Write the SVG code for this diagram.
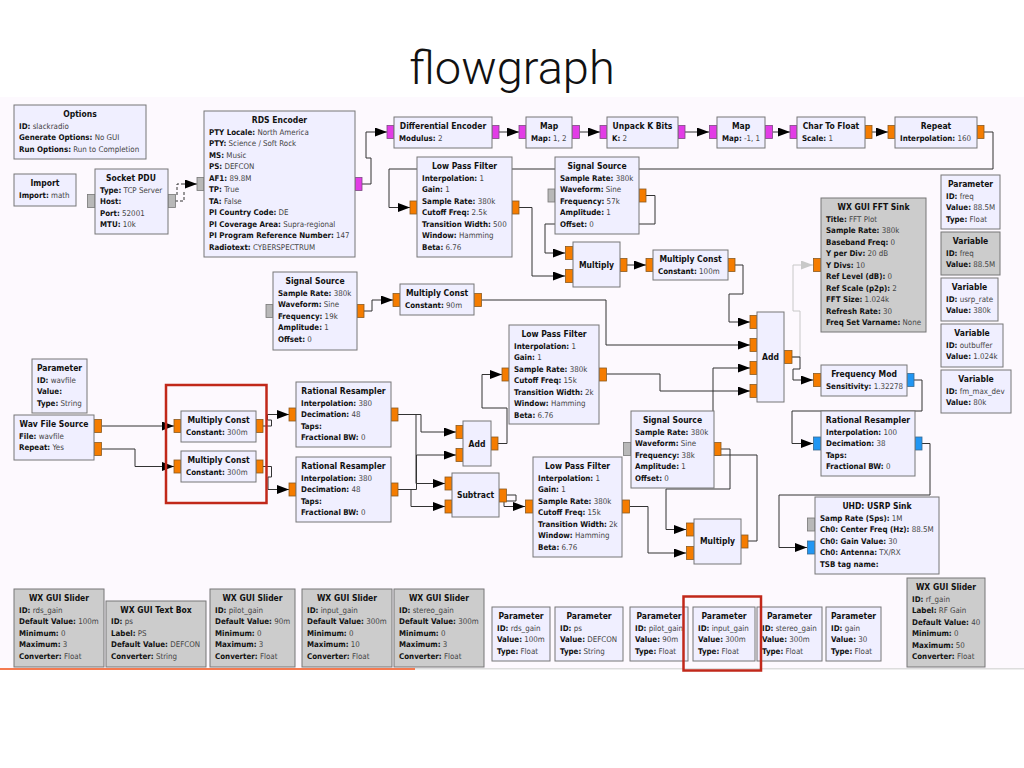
<svg xmlns="http://www.w3.org/2000/svg" width="1024" height="768" viewBox="0 0 1024 768">
<style>
text{font-family:"DejaVu Sans",sans-serif;font-stretch:condensed;font-size:7.9px;fill:#444}
.h{font-family:Roboto,"Liberation Sans",Arial,sans-serif;font-stretch:normal;font-weight:300;font-size:47px;fill:#111;text-anchor:middle}
.t{font-weight:700;font-size:8.5px;text-anchor:middle;fill:#111}
.b{font-weight:700;fill:#111}
.n{fill:#f0efff;stroke:#777;stroke-width:1}
.g{fill:#cccccc;stroke:#777;stroke-width:1}
.po{fill:#f57c00;stroke:#8a5a20;stroke-width:.8}
.pm{fill:#e23ce6;stroke:#7a4a80;stroke-width:.8}
.pb{fill:#2196f3;stroke:#3a6a90;stroke-width:.8}
.pg{fill:#b8b8b8;stroke:#777;stroke-width:.8}
.w{fill:none;stroke:#333;stroke-width:1;marker-end:url(#a)}
.wg{fill:none;stroke:#c8c8c8;stroke-width:1;marker-end:url(#ag)}
.d{fill:none;stroke:#333;stroke-width:1;stroke-dasharray:3 2}
.r{fill:none;stroke:#c1281a;stroke-width:2.5}
</style>
<defs>
<marker id="a" markerUnits="userSpaceOnUse" markerWidth="12" markerHeight="9" refX="12" refY="4.5" orient="auto"><path d="M0 0L12 4.5L0 9Z" fill="#000"/></marker>
<marker id="ag" markerUnits="userSpaceOnUse" markerWidth="12" markerHeight="9" refX="12" refY="4.5" orient="auto"><path d="M0 0L12 4.5L0 9Z" fill="#c8c8c8"/></marker>
</defs>
<rect x="0" y="97" width="1024" height="572" fill="#fdf9fe"/>
<rect x="415" y="668" width="609" height="1.5" fill="#dddddd"/>
<rect x="0" y="668" width="415" height="2" fill="#f47a50"/>
<text class="h" x="512" y="84">flowgraph</text>
<g id="connectors">
<path class="d" d="M175 201H184V190M177 195V184H184"/><path class="w" d="M184 184H197"/>
<path class="w" d="M362 184H371V158H366V132H387"/>
<path class="w" d="M499 132H519"/><path class="w" d="M580 132H600"/><path class="w" d="M685 132H709"/><path class="w" d="M773 132H790"/><path class="w" d="M872 132H888"/>
<path class="w" d="M984 132H993V169H389V207.500H410"/>
<path class="w" d="M519 207.500H532V276H565"/>
<path class="w" d="M646 195.500H655V224H545V253H565"/>
<path class="w" d="M627 265H646"/>
<path class="w" d="M735 265H743V294H729V322H750"/>
<path class="w" d="M364 311H372V300H393"/>
<path class="w" d="M482 300H606V345H750"/>
<path class="w" d="M607 374H660V391H750"/>
<path class="w" d="M748 541H757V455H713V368H750"/>
<path class="wg" d="M792 357H800V311H793V265H813"/>
<path class="w" d="M792 357H800V369H793V380H813"/>
<path class="w" d="M914 380H922V411H792V443.500H813"/>
<path class="w" d="M922 443.500H930V495H779V547.500H807"/>
<path class="w" d="M102 426H174"/>
<path class="w" d="M102 449H135V466.500H174"/>
<path class="w" d="M263 426H271.500V420H267.500V414.500H289"/>
<path class="w" d="M263 466.500H271.500V477H268V489.500H289"/>
<path class="w" d="M398 414.500H421V432H456"/>
<path class="w" d="M398 414.500H416V483.500H445"/>
<path class="w" d="M398 489.500H416.500V455H456"/>
<path class="w" d="M398 489.500H411V506.500H445"/>
<path class="w" d="M498 443.500H507V408H482V374.500H502"/>
<path class="w" d="M507 495H516V501H504V506.500H525"/>
<path class="w" d="M630 506.500H648V553H686"/>
<path class="w" d="M721 449H730V489H666V529.500H686"/>
</g>
<g id="options"><rect class="n" x="14" y="105" width="132" height="54"/><text class="t" x="80" y="117">Options</text><text x="19" y="128.500"><tspan class="b">ID:</tspan> slackradio</text><text x="19" y="140"><tspan class="b">Generate Options:</tspan> No GUI</text><text x="19" y="151.500"><tspan class="b">Run Options:</tspan> Run to Completion</text></g>
<g id="import"><rect class="n" x="14" y="174" width="62" height="32"/><text class="t" x="45" y="186">Import</text><text x="19" y="197.500"><tspan class="b">Import:</tspan> math</text></g>
<g id="socket-pdu"><rect class="pg" x="87.500" y="194.500" width="7.500" height="13"/><rect class="pg" x="168" y="194.500" width="7.500" height="13"/><rect class="n" x="95" y="169" width="73" height="65"/><text class="t" x="131" y="181">Socket PDU</text><text x="100" y="192.500"><tspan class="b">Type:</tspan> TCP Server</text><text x="100" y="204"><tspan class="b">Host:</tspan></text><text x="100" y="215.500"><tspan class="b">Port:</tspan> 52001</text><text x="100" y="227"><tspan class="b">MTU:</tspan> 10k</text></g>
<g id="rds-encoder"><rect class="pg" x="197" y="177.500" width="7" height="13"/><rect class="pm" x="355" y="177.500" width="7" height="13"/><rect class="n" x="204" y="111" width="151" height="146"/><text class="t" x="279.500" y="123">RDS Encoder</text><text x="209" y="134.500"><tspan class="b">PTY Locale:</tspan> North America</text><text x="209" y="146"><tspan class="b">PTY:</tspan> Science / Soft Rock</text><text x="209" y="157.500"><tspan class="b">MS:</tspan> Music</text><text x="209" y="169"><tspan class="b">PS:</tspan> DEFCON</text><text x="209" y="180.500"><tspan class="b">AF1:</tspan> 89.8M</text><text x="209" y="192"><tspan class="b">TP:</tspan> True</text><text x="209" y="203.500"><tspan class="b">TA:</tspan> False</text><text x="209" y="215"><tspan class="b">PI Country Code:</tspan> DE</text><text x="209" y="226.500"><tspan class="b">PI Coverage Area:</tspan> Supra-regional</text><text x="209" y="238"><tspan class="b">PI Program Reference Number:</tspan> 147</text><text x="209" y="249.500"><tspan class="b">Radiotext:</tspan> CYBERSPECTRUM</text></g>
<g id="signal-source-19k"><rect class="pg" x="266" y="304.500" width="7" height="13"/><rect class="po" x="357" y="304.500" width="7" height="13"/><rect class="n" x="273" y="272" width="84" height="78"/><text class="t" x="315" y="284">Signal Source</text><text x="278" y="295.500"><tspan class="b">Sample Rate:</tspan> 380k</text><text x="278" y="307"><tspan class="b">Waveform:</tspan> Sine</text><text x="278" y="318.500"><tspan class="b">Frequency:</tspan> 19k</text><text x="278" y="330"><tspan class="b">Amplitude:</tspan> 1</text><text x="278" y="341.500"><tspan class="b">Offset:</tspan> 0</text></g>
<g id="differential-encoder"><rect class="pm" x="387" y="125.500" width="7" height="13"/><rect class="pm" x="492" y="125.500" width="7" height="13"/><rect class="n" x="394" y="117" width="98" height="31"/><text class="t" x="443" y="129">Differential Encoder</text><text x="399" y="140.500"><tspan class="b">Modulus:</tspan> 2</text></g>
<g id="map-1"><rect class="pm" x="519" y="125.500" width="7" height="13"/><rect class="pm" x="572" y="125.500" width="7.500" height="13"/><rect class="n" x="526" y="117" width="46" height="31"/><text class="t" x="549" y="129">Map</text><text x="531" y="140.500"><tspan class="b">Map:</tspan> 1, 2</text></g>
<g id="unpack-k-bits"><rect class="pm" x="600" y="125.500" width="7" height="13"/><rect class="pm" x="678" y="125.500" width="7" height="13"/><rect class="n" x="607" y="117" width="71" height="31"/><text class="t" x="642.500" y="129">Unpack K Bits</text><text x="612" y="140.500"><tspan class="b">K:</tspan> 2</text></g>
<g id="map-2"><rect class="pm" x="709.500" y="125.500" width="7.500" height="13"/><rect class="pm" x="765" y="125.500" width="7.500" height="13"/><rect class="n" x="717" y="117" width="48" height="31"/><text class="t" x="741" y="129">Map</text><text x="722" y="140.500"><tspan class="b">Map:</tspan> -1, 1</text></g>
<g id="char-to-float"><rect class="pm" x="790" y="125.500" width="7" height="13"/><rect class="po" x="865" y="125.500" width="7" height="13"/><rect class="n" x="797" y="117" width="68" height="31"/><text class="t" x="831" y="129">Char To Float</text><text x="802" y="140.500"><tspan class="b">Scale:</tspan> 1</text></g>
<g id="repeat"><rect class="po" x="888" y="125.500" width="7" height="13"/><rect class="po" x="977" y="125.500" width="7" height="13"/><rect class="n" x="895" y="117" width="82" height="31"/><text class="t" x="936" y="129">Repeat</text><text x="900" y="140.500"><tspan class="b">Interpolation:</tspan> 160</text></g>
<g id="lpf-1"><rect class="po" x="410" y="201" width="7" height="13"/><rect class="po" x="512" y="201" width="7" height="13"/><rect class="n" x="417" y="157" width="95" height="100"/><text class="t" x="464.500" y="169">Low Pass Filter</text><text x="422" y="180.500"><tspan class="b">Interpolation:</tspan> 1</text><text x="422" y="192"><tspan class="b">Gain:</tspan> 1</text><text x="422" y="203.500"><tspan class="b">Sample Rate:</tspan> 380k</text><text x="422" y="215"><tspan class="b">Cutoff Freq:</tspan> 2.5k</text><text x="422" y="226.500"><tspan class="b">Transition Width:</tspan> 500</text><text x="422" y="238"><tspan class="b">Window:</tspan> Hamming</text><text x="422" y="249.500"><tspan class="b">Beta:</tspan> 6.76</text></g>
<g id="signal-source-57k"><rect class="pg" x="548" y="189" width="7" height="13"/><rect class="po" x="639" y="189" width="7" height="13"/><rect class="n" x="555" y="157" width="84" height="77"/><text class="t" x="597" y="169">Signal Source</text><text x="560" y="180.500"><tspan class="b">Sample Rate:</tspan> 380k</text><text x="560" y="192"><tspan class="b">Waveform:</tspan> Sine</text><text x="560" y="203.500"><tspan class="b">Frequency:</tspan> 57k</text><text x="560" y="215"><tspan class="b">Amplitude:</tspan> 1</text><text x="560" y="226.500"><tspan class="b">Offset:</tspan> 0</text></g>
<g id="multiply-1"><rect class="po" x="565.500" y="246.500" width="7.500" height="13"/><rect class="po" x="565.500" y="269.500" width="7.500" height="13"/><rect class="po" x="620" y="258.500" width="7" height="13"/><rect class="n" x="573" y="242" width="47" height="45"/><text class="t" x="596.500" y="268">Multiply</text></g>
<g id="multiply-const-100m"><rect class="po" x="646" y="258.500" width="7" height="13"/><rect class="po" x="728" y="258.500" width="7" height="13"/><rect class="n" x="653" y="250" width="75" height="30"/><text class="t" x="690.500" y="262">Multiply Const</text><text x="658" y="273.500"><tspan class="b">Constant:</tspan> 100m</text></g>
<g id="multiply-const-90m"><rect class="po" x="393" y="293.500" width="7" height="13"/><rect class="po" x="474" y="293.500" width="7.500" height="13"/><rect class="n" x="400" y="284" width="74" height="31"/><text class="t" x="437" y="296">Multiply Const</text><text x="405" y="307.500"><tspan class="b">Constant:</tspan> 90m</text></g>
<g id="lpf-2"><rect class="po" x="502" y="368" width="7" height="13"/><rect class="po" x="599" y="368" width="7.500" height="13"/><rect class="n" x="509" y="325" width="90" height="99"/><text class="t" x="554" y="337">Low Pass Filter</text><text x="514" y="348.500"><tspan class="b">Interpolation:</tspan> 1</text><text x="514" y="360"><tspan class="b">Gain:</tspan> 1</text><text x="514" y="371.500"><tspan class="b">Sample Rate:</tspan> 380k</text><text x="514" y="383"><tspan class="b">Cutoff Freq:</tspan> 15k</text><text x="514" y="394.500"><tspan class="b">Transition Width:</tspan> 2k</text><text x="514" y="406"><tspan class="b">Window:</tspan> Hamming</text><text x="514" y="417.500"><tspan class="b">Beta:</tspan> 6.76</text></g>
<g id="param-freq"><rect class="n" x="941" y="175" width="59" height="54"/><text class="t" x="970.500" y="187">Parameter</text><text x="946" y="198.500"><tspan class="b">ID:</tspan> freq</text><text x="946" y="210"><tspan class="b">Value:</tspan> 88.5M</text><text x="946" y="221.500"><tspan class="b">Type:</tspan> Float</text></g>
<g id="var-freq"><rect class="g" x="941" y="232" width="59" height="43"/><text class="t" x="970.500" y="244">Variable</text><text x="946" y="255.500"><tspan class="b">ID:</tspan> freq</text><text x="946" y="267"><tspan class="b">Value:</tspan> 88.5M</text></g>
<g id="var-usrp-rate"><rect class="n" x="941" y="278" width="57" height="43"/><text class="t" x="969.500" y="290">Variable</text><text x="946" y="301.500"><tspan class="b">ID:</tspan> usrp_rate</text><text x="946" y="313"><tspan class="b">Value:</tspan> 380k</text></g>
<g id="var-outbuffer"><rect class="n" x="941" y="324" width="62" height="43"/><text class="t" x="972" y="336">Variable</text><text x="946" y="347.500"><tspan class="b">ID:</tspan> outbuffer</text><text x="946" y="359"><tspan class="b">Value:</tspan> 1.024k</text></g>
<g id="var-fm-max-dev"><rect class="n" x="941" y="370" width="70" height="43"/><text class="t" x="976" y="382">Variable</text><text x="946" y="393.500"><tspan class="b">ID:</tspan> fm_max_dev</text><text x="946" y="405"><tspan class="b">Value:</tspan> 80k</text></g>
<g id="fft-sink"><rect class="po" x="813.500" y="258.500" width="7.500" height="13"/><rect class="g" x="821" y="198" width="105" height="134"/><text class="t" x="873.500" y="210">WX GUI FFT Sink</text><text x="826" y="221.500"><tspan class="b">Title:</tspan> FFT Plot</text><text x="826" y="233"><tspan class="b">Sample Rate:</tspan> 380k</text><text x="826" y="244.500"><tspan class="b">Baseband Freq:</tspan> 0</text><text x="826" y="256"><tspan class="b">Y per Div:</tspan> 20 dB</text><text x="826" y="267.500"><tspan class="b">Y Divs:</tspan> 10</text><text x="826" y="279"><tspan class="b">Ref Level (dB):</tspan> 0</text><text x="826" y="290.500"><tspan class="b">Ref Scale (p2p):</tspan> 2</text><text x="826" y="302"><tspan class="b">FFT Size:</tspan> 1.024k</text><text x="826" y="313.500"><tspan class="b">Refresh Rate:</tspan> 30</text><text x="826" y="325"><tspan class="b">Freq Set Varname:</tspan> None</text></g>
<g id="add-main"><rect class="po" x="750" y="315.500" width="7" height="13"/><rect class="po" x="750" y="338.500" width="7" height="13"/><rect class="po" x="750" y="361.500" width="7" height="13"/><rect class="po" x="750" y="384.500" width="7" height="13"/><rect class="po" x="784.500" y="350.500" width="7.500" height="13"/><rect class="n" x="757" y="312" width="27" height="90"/><text class="t" x="770.500" y="359.500">Add</text></g>
<g id="frequency-mod"><rect class="po" x="813.500" y="373.500" width="7.500" height="13"/><rect class="pb" x="907" y="373.500" width="7" height="13"/><rect class="n" x="821" y="365" width="86" height="31"/><text class="t" x="864" y="377">Frequency Mod</text><text x="826" y="388.500"><tspan class="b">Sensitivity:</tspan> 1.32278</text></g>
<g id="resampler-3"><rect class="pb" x="813.500" y="437" width="7.500" height="13"/><rect class="pb" x="915" y="437" width="7" height="13"/><rect class="n" x="821" y="411" width="94" height="65"/><text class="t" x="868" y="423">Rational Resampler</text><text x="826" y="434.500"><tspan class="b">Interpolation:</tspan> 100</text><text x="826" y="446"><tspan class="b">Decimation:</tspan> 38</text><text x="826" y="457.500"><tspan class="b">Taps:</tspan></text><text x="826" y="469"><tspan class="b">Fractional BW:</tspan> 0</text></g>
<g id="usrp-sink"><rect class="pg" x="807.500" y="518" width="7.500" height="13"/><rect class="pb" x="807.500" y="541" width="7.500" height="13"/><rect class="n" x="815" y="497" width="124" height="77"/><text class="t" x="877" y="509">UHD: USRP Sink</text><text x="820" y="520.500"><tspan class="b">Samp Rate (Sps):</tspan> 1M</text><text x="820" y="532"><tspan class="b">Ch0: Center Freq (Hz):</tspan> 88.5M</text><text x="820" y="543.500"><tspan class="b">Ch0: Gain Value:</tspan> 30</text><text x="820" y="555"><tspan class="b">Ch0: Antenna:</tspan> TX/RX</text><text x="820" y="566.500"><tspan class="b">TSB tag name:</tspan></text></g>
<g id="param-wavfile"><rect class="n" x="32" y="359" width="55" height="54"/><text class="t" x="59.500" y="371">Parameter</text><text x="37" y="382.500"><tspan class="b">ID:</tspan> wavfile</text><text x="37" y="394"><tspan class="b">Value:</tspan></text><text x="37" y="405.500"><tspan class="b">Type:</tspan> String</text></g>
<g id="wav-file-source"><rect class="po" x="94" y="419.500" width="7.500" height="13"/><rect class="po" x="94" y="442.500" width="7.500" height="13"/><rect class="n" x="14" y="415" width="80" height="45"/><text class="t" x="54" y="427">Wav File Source</text><text x="19" y="438.500"><tspan class="b">File:</tspan> wavfile</text><text x="19" y="450"><tspan class="b">Repeat:</tspan> Yes</text></g>
<g id="multiply-const-l"><rect class="po" x="174" y="419.500" width="7" height="13"/><rect class="po" x="256" y="419.500" width="7" height="13"/><rect class="n" x="181" y="411" width="75" height="31"/><text class="t" x="218.500" y="423">Multiply Const</text><text x="186" y="434.500"><tspan class="b">Constant:</tspan> 300m</text></g>
<g id="multiply-const-r"><rect class="po" x="174" y="460" width="7" height="13"/><rect class="po" x="256" y="460" width="7" height="13"/><rect class="n" x="181" y="451" width="75" height="31"/><text class="t" x="218.500" y="463">Multiply Const</text><text x="186" y="474.500"><tspan class="b">Constant:</tspan> 300m</text></g>
<g id="resampler-1"><rect class="po" x="289" y="408" width="7" height="13"/><rect class="po" x="391" y="408" width="7" height="13"/><rect class="n" x="296" y="382" width="95" height="65"/><text class="t" x="343.500" y="394">Rational Resampler</text><text x="301" y="405.500"><tspan class="b">Interpolation:</tspan> 380</text><text x="301" y="417"><tspan class="b">Decimation:</tspan> 48</text><text x="301" y="428.500"><tspan class="b">Taps:</tspan></text><text x="301" y="440"><tspan class="b">Fractional BW:</tspan> 0</text></g>
<g id="resampler-2"><rect class="po" x="289" y="483" width="7" height="13"/><rect class="po" x="391" y="483" width="7" height="13"/><rect class="n" x="296" y="457" width="95" height="65"/><text class="t" x="343.500" y="469">Rational Resampler</text><text x="301" y="480.500"><tspan class="b">Interpolation:</tspan> 380</text><text x="301" y="492"><tspan class="b">Decimation:</tspan> 48</text><text x="301" y="503.500"><tspan class="b">Taps:</tspan></text><text x="301" y="515"><tspan class="b">Fractional BW:</tspan> 0</text></g>
<g id="add-2"><rect class="po" x="456" y="425.500" width="7" height="13"/><rect class="po" x="456" y="448.500" width="7" height="13"/><rect class="po" x="491" y="437" width="7" height="13"/><rect class="n" x="463" y="421" width="28" height="45"/><text class="t" x="477" y="446.500">Add</text></g>
<g id="subtract"><rect class="po" x="445" y="477" width="7" height="13"/><rect class="po" x="445" y="500" width="7" height="13"/><rect class="po" x="499" y="489" width="7.500" height="13"/><rect class="n" x="452" y="473" width="47" height="44"/><text class="t" x="475.500" y="497.500">Subtract</text></g>
<g id="lpf-3"><rect class="po" x="525.500" y="500" width="7.500" height="13"/><rect class="po" x="622" y="500" width="7.500" height="13"/><rect class="n" x="533" y="457" width="89" height="100"/><text class="t" x="577.500" y="469">Low Pass Filter</text><text x="538" y="480.500"><tspan class="b">Interpolation:</tspan> 1</text><text x="538" y="492"><tspan class="b">Gain:</tspan> 1</text><text x="538" y="503.500"><tspan class="b">Sample Rate:</tspan> 380k</text><text x="538" y="515"><tspan class="b">Cutoff Freq:</tspan> 15k</text><text x="538" y="526.500"><tspan class="b">Transition Width:</tspan> 2k</text><text x="538" y="538"><tspan class="b">Window:</tspan> Hamming</text><text x="538" y="549.500"><tspan class="b">Beta:</tspan> 6.76</text></g>
<g id="signal-source-38k"><rect class="pg" x="623.500" y="442.500" width="7.500" height="13"/><rect class="po" x="714" y="442.500" width="7" height="13"/><rect class="n" x="631" y="411" width="83" height="77"/><text class="t" x="672.500" y="423">Signal Source</text><text x="635" y="434.500"><tspan class="b">Sample Rate:</tspan> 380k</text><text x="635" y="446"><tspan class="b">Waveform:</tspan> Sine</text><text x="635" y="457.500"><tspan class="b">Frequency:</tspan> 38k</text><text x="635" y="469"><tspan class="b">Amplitude:</tspan> 1</text><text x="635" y="480.500"><tspan class="b">Offset:</tspan> 0</text></g>
<g id="multiply-2"><rect class="po" x="686.500" y="523" width="7.500" height="13"/><rect class="po" x="686.500" y="546.500" width="7.500" height="13"/><rect class="po" x="741" y="535" width="7" height="13"/><rect class="n" x="694" y="519" width="47" height="45"/><text class="t" x="717.500" y="544">Multiply</text></g>
<g id="slider-rds"><rect class="g" x="14" y="589" width="90" height="78"/><text class="t" x="59" y="601">WX GUI Slider</text><text x="19" y="612.500"><tspan class="b">ID:</tspan> rds_gain</text><text x="19" y="624"><tspan class="b">Default Value:</tspan> 100m</text><text x="19" y="635.500"><tspan class="b">Minimum:</tspan> 0</text><text x="19" y="647"><tspan class="b">Maximum:</tspan> 3</text><text x="19" y="658.500"><tspan class="b">Converter:</tspan> Float</text></g>
<g id="textbox-ps"><rect class="g" x="106" y="601" width="100" height="66"/><text class="t" x="156" y="613">WX GUI Text Box</text><text x="111" y="624"><tspan class="b">ID:</tspan> ps</text><text x="111" y="635.500"><tspan class="b">Label:</tspan> PS</text><text x="111" y="647"><tspan class="b">Default Value:</tspan> DEFCON</text><text x="111" y="658.500"><tspan class="b">Converter:</tspan> String</text></g>
<g id="slider-pilot"><rect class="g" x="210" y="589" width="85" height="78"/><text class="t" x="252.500" y="601">WX GUI Slider</text><text x="215" y="612.500"><tspan class="b">ID:</tspan> pilot_gain</text><text x="215" y="624"><tspan class="b">Default Value:</tspan> 90m</text><text x="215" y="635.500"><tspan class="b">Minimum:</tspan> 0</text><text x="215" y="647"><tspan class="b">Maximum:</tspan> 3</text><text x="215" y="658.500"><tspan class="b">Converter:</tspan> Float</text></g>
<g id="slider-input"><rect class="g" x="302" y="589" width="90" height="78"/><text class="t" x="347" y="601">WX GUI Slider</text><text x="307" y="612.500"><tspan class="b">ID:</tspan> input_gain</text><text x="307" y="624"><tspan class="b">Default Value:</tspan> 300m</text><text x="307" y="635.500"><tspan class="b">Minimum:</tspan> 0</text><text x="307" y="647"><tspan class="b">Maximum:</tspan> 10</text><text x="307" y="658.500"><tspan class="b">Converter:</tspan> Float</text></g>
<g id="slider-stereo"><rect class="g" x="394" y="589" width="90" height="78"/><text class="t" x="439" y="601">WX GUI Slider</text><text x="399" y="612.500"><tspan class="b">ID:</tspan> stereo_gain</text><text x="399" y="624"><tspan class="b">Default Value:</tspan> 300m</text><text x="399" y="635.500"><tspan class="b">Minimum:</tspan> 0</text><text x="399" y="647"><tspan class="b">Maximum:</tspan> 3</text><text x="399" y="658.500"><tspan class="b">Converter:</tspan> Float</text></g>
<g id="param-rds"><rect class="n" x="492" y="607" width="58" height="54"/><text class="t" x="521" y="619">Parameter</text><text x="497" y="630.500"><tspan class="b">ID:</tspan> rds_gain</text><text x="497" y="642"><tspan class="b">Value:</tspan> 100m</text><text x="497" y="653.500"><tspan class="b">Type:</tspan> Float</text></g>
<g id="param-ps"><rect class="n" x="555" y="607" width="68" height="54"/><text class="t" x="589" y="619">Parameter</text><text x="560" y="630.500"><tspan class="b">ID:</tspan> ps</text><text x="560" y="642"><tspan class="b">Value:</tspan> DEFCON</text><text x="560" y="653.500"><tspan class="b">Type:</tspan> String</text></g>
<g id="param-pilot"><rect class="n" x="630" y="607" width="58" height="54"/><text class="t" x="659" y="619">Parameter</text><text x="635" y="630.500"><tspan class="b">ID:</tspan> pilot_gain</text><text x="635" y="642"><tspan class="b">Value:</tspan> 90m</text><text x="635" y="653.500"><tspan class="b">Type:</tspan> Float</text></g>
<g id="param-input"><rect class="n" x="693" y="607" width="62" height="54"/><text class="t" x="724" y="619">Parameter</text><text x="698" y="630.500"><tspan class="b">ID:</tspan> input_gain</text><text x="698" y="642"><tspan class="b">Value:</tspan> 300m</text><text x="698" y="653.500"><tspan class="b">Type:</tspan> Float</text></g>
<g id="param-stereo"><rect class="n" x="757" y="607" width="65" height="54"/><text class="t" x="789.500" y="619">Parameter</text><text x="762" y="630.500"><tspan class="b">ID:</tspan> stereo_gain</text><text x="762" y="642"><tspan class="b">Value:</tspan> 300m</text><text x="762" y="653.500"><tspan class="b">Type:</tspan> Float</text></g>
<g id="param-gain"><rect class="n" x="826" y="607" width="55" height="54"/><text class="t" x="853.500" y="619">Parameter</text><text x="831" y="630.500"><tspan class="b">ID:</tspan> gain</text><text x="831" y="642"><tspan class="b">Value:</tspan> 30</text><text x="831" y="653.500"><tspan class="b">Type:</tspan> Float</text></g>
<g id="slider-rf"><rect class="g" x="907" y="578" width="78" height="89"/><text class="t" x="946" y="590">WX GUI Slider</text><text x="912" y="601.500"><tspan class="b">ID:</tspan> rf_gain</text><text x="912" y="613"><tspan class="b">Label:</tspan> RF Gain</text><text x="912" y="624.500"><tspan class="b">Default Value:</tspan> 40</text><text x="912" y="636"><tspan class="b">Minimum:</tspan> 0</text><text x="912" y="647.500"><tspan class="b">Maximum:</tspan> 50</text><text x="912" y="659"><tspan class="b">Converter:</tspan> Float</text></g>
<rect class="r" x="166" y="385" width="100.500" height="118"/>
<rect class="r" x="683.500" y="596.500" width="77.500" height="74"/>
</svg>
